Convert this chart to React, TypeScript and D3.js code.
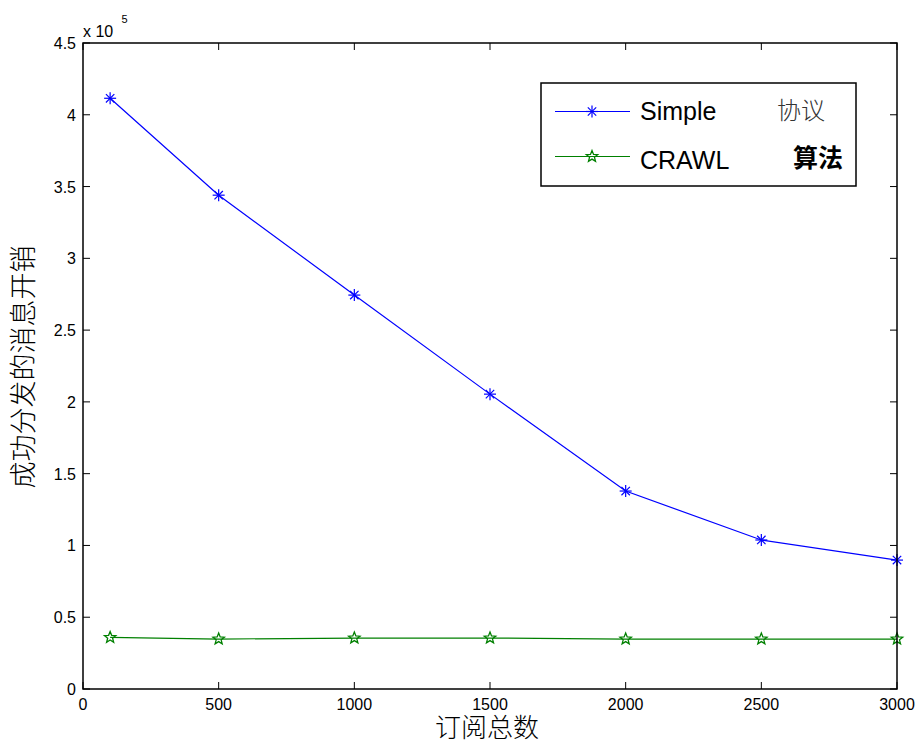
import React from "react";
import * as d3 from "d3";

const xValues = [100, 500, 1000, 1500, 2000, 2500, 3000];
const simpleValues = [4.115, 3.44, 2.744, 2.054, 1.379, 1.038, 0.898];
const crawlValues = [0.359, 0.348, 0.355, 0.355, 0.348, 0.348, 0.348];
const xTicks = [0, 500, 1000, 1500, 2000, 2500, 3000];
const yTicks = [0, 0.5, 1, 1.5, 2, 2.5, 3, 3.5, 4, 4.5];

const W = 917, H = 745;
const L = 83, R = 897, T = 43, B = 689;

function Asterisk({ x, y, c }: { x: number; y: number; c: string }) {
  const r = 6;
  return (
    <g stroke={c} strokeWidth={1.2}>
      <line x1={x - r} y1={y} x2={x + r} y2={y} />
      <line x1={x} y1={y - r} x2={x} y2={y + r} />
      <line x1={x - r * 0.7} y1={y - r * 0.7} x2={x + r * 0.7} y2={y + r * 0.7} />
      <line x1={x - r * 0.7} y1={y + r * 0.7} x2={x + r * 0.7} y2={y - r * 0.7} />
    </g>
  );
}

function Star({ x, y, c }: { x: number; y: number; c: string }) {
  const pts: string[] = [];
  const ro = 6, ri = 2.6;
  for (let i = 0; i < 10; i++) {
    const a = -Math.PI / 2 + (i * Math.PI) / 5;
    const r = i % 2 === 0 ? ro : ri;
    pts.push(`${x + r * Math.cos(a)},${y + r * Math.sin(a)}`);
  }
  return <polygon points={pts.join(" ")} fill="none" stroke={c} strokeWidth={1.3} />;
}

export default function App() {
  const x = d3.scaleLinear().domain([0, 3000]).range([L, R]);
  const y = d3.scaleLinear().domain([0, 4.5]).range([B, T]);
  const line = d3
    .line<number>()
    .x((_, i) => x(xValues[i]))
    .y((d) => y(d));
  const blue = "#0000ff";
  const green = "#008000";
  const font = "Liberation Sans, Arial, sans-serif";
  const cjk = "Noto Sans CJK SC, sans-serif";
  return (
    <svg width={W} height={H} style={{ position: "absolute", left: 0, top: 0 }}>
      <rect x={0} y={0} width={W} height={H} fill="#fff" />
      <path d={line(simpleValues) || ""} fill="none" stroke={blue} strokeWidth={1.2} />
      <path d={line(crawlValues) || ""} fill="none" stroke={green} strokeWidth={1.2} />
      {simpleValues.map((v, i) => (
        <Asterisk key={"s" + i} x={x(xValues[i])} y={y(v)} c={blue} />
      ))}
      {crawlValues.map((v, i) => (
        <Star key={"c" + i} x={x(xValues[i])} y={y(v)} c={green} />
      ))}
      <rect x={L} y={T} width={R - L} height={B - T} fill="none" stroke="#000" strokeWidth={1.5} />
      {xTicks.map((t) => (
        <g key={"xt" + t}>
          <line x1={x(t)} x2={x(t)} y1={B} y2={B - 7} stroke="#000" />
          <line x1={x(t)} x2={x(t)} y1={T} y2={T + 7} stroke="#000" />
          <text x={x(t)} y={B + 21} textAnchor="middle" fontFamily={font} fontSize={16}>
            {t}
          </text>
        </g>
      ))}
      {yTicks.map((t) => (
        <g key={"yt" + t}>
          <line x1={L} x2={L + 7} y1={y(t)} y2={y(t)} stroke="#000" />
          <line x1={R} x2={R - 7} y1={y(t)} y2={y(t)} stroke="#000" />
          <text x={L - 7} y={y(t) + 6} textAnchor="end" fontFamily={font} fontSize={16}>
            {t}
          </text>
        </g>
      ))}
      <text x={L} y={36.5} fontFamily={font} fontSize={16}>
        x 10
      </text>
      <text x={121.5} y={23} fontFamily={font} fontSize={11}>
        5
      </text>
      <text x={487} y={737} textAnchor="middle" fontFamily={cjk} fontSize={26} fontWeight={300}>
        订阅总数
      </text>
      <text
        transform={`translate(33, 367) rotate(-90)`}
        textAnchor="middle"
        fontFamily={cjk}
        fontSize={27}
        fontWeight={300}
      >
        成功分发的消息开销
      </text>
      <g>
        <rect x={541} y={83} width={315} height={103} fill="#fff" stroke="#000" strokeWidth={1.5} />
        <line x1={555} x2={630} y1={111.5} y2={111.5} stroke={blue} strokeWidth={1.2} />
        <Asterisk x={592} y={111.5} c={blue} />
        <text x={640} y={120} fontFamily={font} fontSize={25}>Simple</text>
        <text x={777} y={119} fontFamily={cjk} fontSize={24} fill="#333" fontWeight={300}>协议</text>
        <line x1={555} x2={630} y1={156.5} y2={156.5} stroke={green} strokeWidth={1.2} />
        <Star x={592} y={156.5} c={green} />
        <text x={640} y={169} fontFamily={font} fontSize={25}>CRAWL</text>
        <text x={793} y={167} fontFamily={cjk} fontSize={25} fontWeight="bold">算法</text>
      </g>
    </svg>
  );
}
